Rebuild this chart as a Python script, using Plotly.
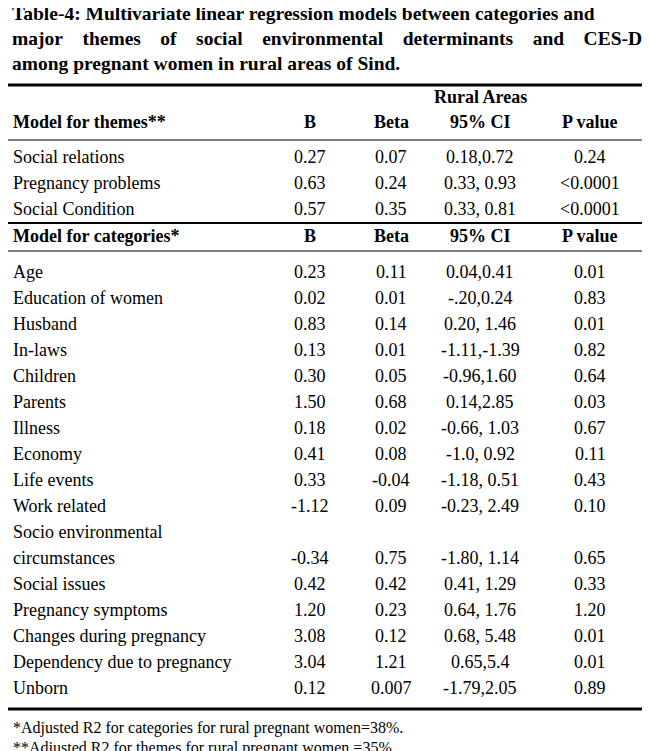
import plotly.graph_objects as go

title_lines = [
    "Table-4: Multivariate linear regression models between categories and",
    "major  themes  of  social  environmental  determinants  and  CES-D",
    "among pregnant women in rural areas of Sind.",
]
columns = ["B", "Beta", "95% CI", "P value"]

theme_names = ["Social relations", "Pregnancy problems", "Social Condition"]
theme_b = ["0.27", "0.63", "0.57"]
theme_beta = ["0.07", "0.24", "0.35"]
theme_ci = ["0.18,0.72", "0.33, 0.93", "0.33, 0.81"]
theme_p = ["0.24", "<0.0001", "<0.0001"]

cat_names = ["Age", "Education of women", "Husband", "In-laws", "Children", "Parents",
             "Illness", "Economy", "Life events", "Work related",
             "Socio environmental<br>circumstances", "Social issues", "Pregnancy symptoms",
             "Changes during pregnancy", "Dependency due to pregnancy", "Unborn"]
cat_b = ["0.23", "0.02", "0.83", "0.13", "0.30", "1.50", "0.18", "0.41", "0.33", "-1.12",
         "-0.34", "0.42", "1.20", "3.08", "3.04", "0.12"]
cat_beta = ["0.11", "0.01", "0.14", "0.01", "0.05", "0.68", "0.02", "0.08", "-0.04", "0.09",
            "0.75", "0.42", "0.23", "0.12", "1.21", "0.007"]
cat_ci = ["0.04,0.41", "-.20,0.24", "0.20, 1.46", "-1.11,-1.39", "-0.96,1.60", "0.14,2.85",
          "-0.66, 1.03", "-1.0, 0.92", "-1.18, 0.51", "-0.23, 2.49", "-1.80, 1.14",
          "0.41, 1.29", "0.64, 1.76", "0.68, 5.48", "0.65,5.4", "-1.79,2.05"]
cat_p = ["0.01", "0.83", "0.01", "0.82", "0.64", "0.03", "0.67", "0.11", "0.43", "0.10",
         "0.65", "0.33", "1.20", "0.01", "0.01", "0.89"]

footnotes = ["*Adjusted R2 for categories for rural pregnant women=38%.",
             "**Adjusted R2 for themes for rural pregnant women =35%."]

FONT = "Liberation Serif"
col_x = [302, 383, 472, 582]
ROW = 26
OFF = -8  # rendering offset correction

fig = go.Figure()
ann = []
shapes = []

def text(x, y, s, anchor="center", bold=False, size=18):
    if bold:
        s = "<b>" + s + "</b>"
    ann.append(dict(x=x, y=y + OFF, text=s, xref="x", yref="y", showarrow=False,
                    xanchor=anchor, yanchor="middle",
                    font=dict(family=FONT, size=size, color="black")))

def hline(y, w):
    shapes.append(dict(type="line", xref="x", yref="y", x0=0, x1=650, y0=y + OFF, y1=y + OFF,
                       line=dict(color="black", width=w)))

# title
text(2, 13, title_lines[0], "left", True, 19.5)
text(2, 38, title_lines[1].replace("  ", "&nbsp;&nbsp;&nbsp; "), "left", True, 19.5)
text(2, 63, title_lines[2], "left", True, 19.5)

hline(85, 3)
text(col_x[2], 97, "Rural Areas", "center", True)
text(3, 122, "Model for themes**", "left", True)
for x, c in zip(col_x, columns):
    text(x, 122, c, "center", True)
hline(140, 1)

y = 157
for i in range(len(theme_names)):
    text(3, y, theme_names[i], "left")
    for x, v in zip(col_x, [theme_b[i], theme_beta[i], theme_ci[i], theme_p[i]]):
        text(x, y, v)
    y += ROW

hline(223, 2)
text(3, 236, "Model for categories*", "left", True)
for x, c in zip(col_x, columns):
    text(x, 236, c, "center", True)
hline(251, 1)

y = 272
for i in range(len(cat_names)):
    if "<br>" in cat_names[i]:
        a, b = cat_names[i].split("<br>")
        text(3, y, a, "left")
        y += ROW
        text(3, y, b, "left")
    else:
        text(3, y, cat_names[i], "left")
    for x, v in zip(col_x, [cat_b[i], cat_beta[i], cat_ci[i], cat_p[i]]):
        text(x, y, v)
    y += ROW

hline(709, 3)
text(3, 728, footnotes[0], "left", size=16)
text(3, 748, footnotes[1], "left", size=16)

fig.update_layout(
    width=650, height=751, margin=dict(l=0, r=0, t=0, b=0),
    paper_bgcolor="white", plot_bgcolor="white",
    xaxis=dict(range=[0, 650], visible=False, fixedrange=True),
    yaxis=dict(range=[751, 0], visible=False, fixedrange=True),
    annotations=ann, shapes=shapes, showlegend=False,
)
fig.write_html("out.html")
